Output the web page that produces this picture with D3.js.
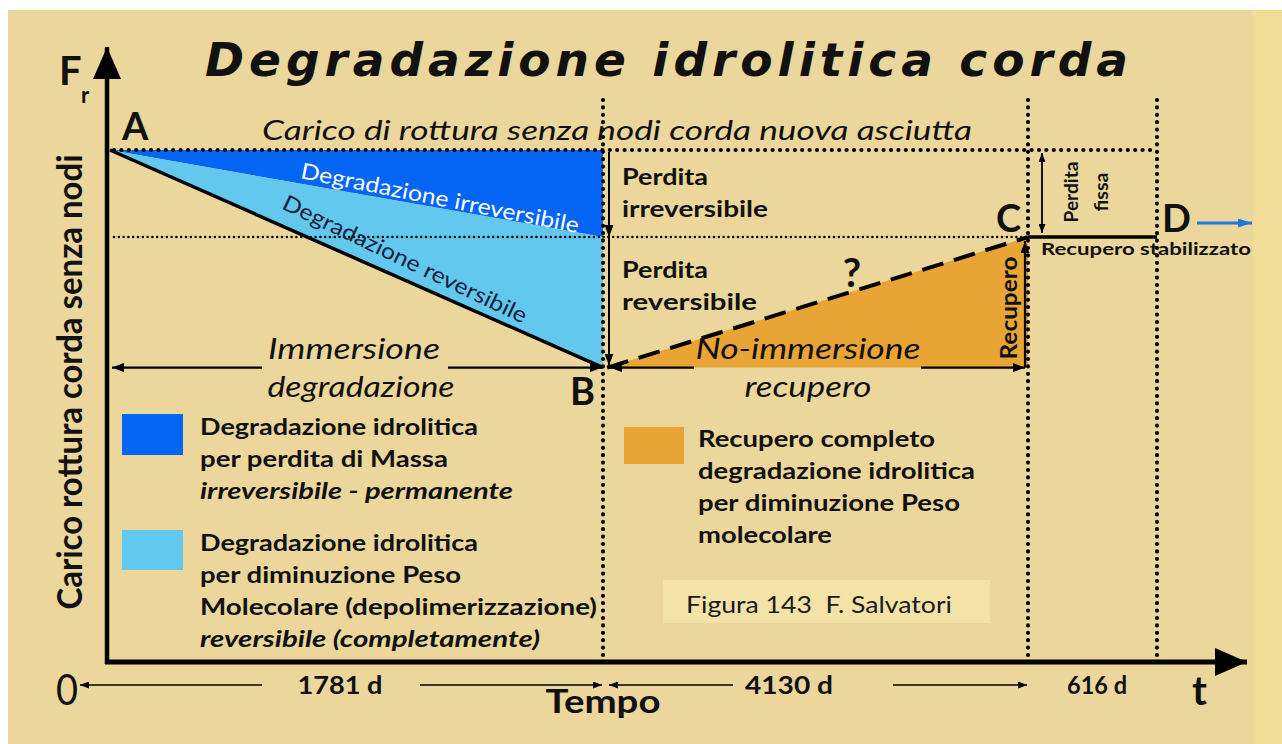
<!DOCTYPE html>
<html>
<head>
<meta charset="utf-8">
<script src="https://cdn.jsdelivr.net/npm/d3@7"></script>
<style>
  html, body { margin: 0; padding: 0; background: #fff; }
  svg { display: block; }
</style>
</head>
<body>
<div id="chart"></div>
<script>
// phases of the rope life: A (new), B (end of immersion), C (recovered), D (stable)
const phaseNames = ['A', 'B', 'C', 'D'];
const phaseDays = [0, 1781, 5911, 6527];
const phaseStrength = [100, 57.5, 83, 83];
const periodLabels = ['1781 d', '4130 d', '616 d'];
const levelNew = 100;
const levelIrreversible = 83;

const legendColors = ['#0565f5', '#62c8ee', '#e8a434'];
const legendLines = [
  ['Degradazione idrolitica', 'per perdita di Massa', 'irreversibile - permanente'],
  ['Degradazione idrolitica', 'per diminuzione Peso', 'Molecolare (depolimerizzazione)', 'reversibile (completamente)'],
  ['Recupero completo', 'degradazione idrolitica', 'per diminuzione Peso', 'molecolare'],
];
const legendItalic = [[false, false, true], [false, false, false, true], [false, false, false, false]];
const legendWidths = [[278, 248, 313], [278, 261, 397, 340], [237, 277, 262, 134]];

const width = 1282;
const height = 744;
const font = 'Lato, "Open Sans", sans-serif';

const svg = d3
  .select('#chart')
  .append('svg')
  .attr('width', width)
  .attr('height', height);

// background
svg.append('rect').attr('width', width).attr('height', height).attr('fill', '#ffffff');
svg.append('rect').attr('x', 8).attr('y', 10).attr('width', 1245).attr('height', 734).attr('fill', '#ebd69b');
svg.append('rect').attr('x', 1253).attr('y', 10).attr('width', 29).attr('height', 734).attr('fill', '#f1dd98');

const defs = svg.append('defs');
const addMarker = (id, w, h, color) => {
  defs
    .append('marker')
    .attr('id', id)
    .attr('viewBox', `0 0 ${w} ${h}`)
    .attr('refX', w)
    .attr('refY', h / 2)
    .attr('markerWidth', w)
    .attr('markerHeight', h)
    .attr('markerUnits', 'userSpaceOnUse')
    .attr('orient', 'auto-start-reverse')
    .append('path')
    .attr('d', `M0,0L${w},${h / 2}L0,${h}Z`)
    .attr('fill', color);
};
addMarker('big', 32, 28, '#000');
addMarker('small', 9, 7, '#000');
addMarker('mid', 12, 9, '#000');
addMarker('blue', 14, 9, '#1e78e6');

// scales: time is not proportional in the drawing, so use a polylinear scale
const x = d3.scaleLinear().domain(phaseDays).range([110, 603, 1028, 1157]);
const y = d3.scaleLinear().domain([0, 100]).range([662, 150]);

const pts = phaseDays.map((d, i) => ({ name: phaseNames[i], day: d, fr: phaseStrength[i] }));
const [A, B, C, D] = pts;

const line = d3
  .line()
  .x((d) => x(d.day))
  .y((d) => y(d.fr));
const poly = d3
  .line()
  .x((d) => x(d.day))
  .y((d) => y(d.fr))
  .curve(d3.curveLinearClosed);

// areas
svg
  .append('path')
  .attr('d', poly([A, { day: B.day, fr: levelNew }, { day: B.day, fr: levelIrreversible }]))
  .attr('fill', legendColors[0]);
svg
  .append('path')
  .attr('d', poly([A, { day: B.day, fr: levelIrreversible }, B]))
  .attr('fill', legendColors[1]);
svg
  .append('path')
  .attr('d', poly([{ day: B.day + 40, fr: B.fr }, C, { day: C.day, fr: B.fr }]))
  .attr('fill', legendColors[2]);

// dotted reference lines
const dotted = (x1, y1, x2, y2, w, gap) =>
  svg
    .append('line')
    .attr('x1', x1)
    .attr('y1', y1)
    .attr('x2', x2)
    .attr('y2', y2)
    .attr('stroke', '#000')
    .attr('stroke-width', w)
    .attr('stroke-linecap', 'round')
    .attr('stroke-dasharray', `0 ${gap}`);

dotted(x(0) + 4, y(levelNew), x(D.day), y(levelNew), 4.2, 7.4);
dotted(x(0) + 4, y(levelIrreversible), x(C.day), y(levelIrreversible), 2.6, 4.8);
phaseDays.slice(1).forEach((d) => dotted(x(d), 100, x(d), 658, 4.2, 7.4));

// curves
svg.append('path').attr('d', line([A, B])).attr('fill', 'none').attr('stroke', '#000').attr('stroke-width', 3.5);
svg
  .append('path')
  .attr('d', line([{ day: B.day + 40, fr: B.fr }, C]))
  .attr('fill', 'none')
  .attr('stroke', '#000')
  .attr('stroke-width', 4)
  .attr('stroke-dasharray', '22 11');
svg.append('path').attr('d', line([C, D])).attr('fill', 'none').attr('stroke', '#000').attr('stroke-width', 3.5);

// arrows helper
const arrow = (x1, y1, x2, y2, w, marker, color = '#000', both = false) => {
  const l = svg
    .append('line')
    .attr('x1', x1)
    .attr('y1', y1)
    .attr('x2', x2)
    .attr('y2', y2)
    .attr('stroke', color)
    .attr('stroke-width', w)
    .attr('marker-end', `url(#${marker})`);
  if (both) l.attr('marker-start', `url(#${marker})`);
  return l;
};

// axes
arrow(x(0) - 3, 664, x(0) - 3, 47, 4.5, 'big');
arrow(x(0) - 5, 662, 1247, 662, 5, 'big');

// loss arrows
arrow(609, y(levelNew) + 2, 609, y(levelIrreversible), 2, 'mid');
arrow(609, y(levelIrreversible), 609, y(B.fr) - 2, 2, 'mid');
arrow(x(C.day) + 14, y(levelNew) + 3, x(C.day) + 14, y(levelIrreversible) - 4, 1.8, 'small', '#000', true);
arrow(x(C.day) - 3, y(B.fr), x(C.day) - 3, y(levelIrreversible) + 4, 2.2, 'mid');

// phase span arrows at the B level
arrow(262, y(B.fr), x(0) + 2, y(B.fr), 2.2, 'mid');
arrow(448, y(B.fr), x(B.day) - 1, y(B.fr), 2.2, 'mid');
arrow(694, y(B.fr), x(B.day) + 7, y(B.fr), 2.2, 'mid');
arrow(921, y(B.fr), x(C.day) - 3, y(B.fr), 2.2, 'mid');

// blue arrow after D
arrow(1197, 223, 1252, 223, 3, 'blue', '#1e78e6');

// time period arrows under the axis
const periodGaps = [
  [262, 420],
  [733, 893],
  [null, null],
];
periodLabels.forEach((lab, i) => {
  const x0 = x(phaseDays[i]);
  const x1 = x(phaseDays[i + 1]);
  if (periodGaps[i][0] !== null) {
    arrow(periodGaps[i][0], 685, i === 0 ? 80 : x0 + 6, 685, 1.6, 'small');
    arrow(periodGaps[i][1], 685, x1 - 1, 685, 1.6, 'small');
  }
});

// text helper
const txt = (str, tx, ty, o = {}) => {
  const t = svg
    .append('text')
    .attr('transform', `translate(${tx},${ty})${o.rotate ? ` rotate(${o.rotate})` : ''}`)
    .attr('font-family', o.family || font)
    .attr('font-size', o.size || 22)
    .attr('font-weight', o.weight || 'normal')
    .attr('font-style', o.italic ? 'italic' : 'normal')
    .attr('text-anchor', o.anchor || 'start')
    .attr('fill', o.fill || '#111')
    .style('white-space', 'pre')
    .text(str);
  if (o.dy) t.attr('dy', o.dy);
  if (o.len) t.attr('textLength', o.len).attr('lengthAdjust', o.adjust || 'spacingAndGlyphs');
  return t;
};

// title
txt('Degradazione idrolitica corda', 205, 76, {
  family: '"DejaVu Sans", Verdana, sans-serif',
  size: 47,
  weight: 'bold',
  italic: true,
  len: 923,
  adjust: 'spacing',
});
txt('Carico di rottura senza nodi corda nuova asciutta', 262, 140, { size: 27, italic: true, len: 710 });

// axis labels
txt('F', 59, 85, { size: 40, weight: 'bold' });
txt('r', 81, 103, { size: 22, weight: 'bold' });
txt('Carico rottura corda senza nodi', 82, 382, { size: 35, weight: 'bold', rotate: -90, anchor: 'middle', len: 455 });
txt('0', 56, 705, { size: 42, len: 22 });
txt('t', 1192, 705, { size: 40, weight: 'bold' });
txt('Tempo', 603, 713, { size: 32, weight: 'bold', anchor: 'middle', len: 115 });

// point letters
const letterPos = [
  [122, 140],
  [570, 405],
  [996, 232],
  [1162, 232],
];
pts.forEach((p, i) => txt(p.name, letterPos[i][0], letterPos[i][1], { size: 38, weight: 'bold' }));

// period labels
const periodCenters = [340, 789, 1097];
const periodWidths = [85, 88, 60];
periodLabels.forEach((lab, i) =>
  txt(lab, periodCenters[i], 694, { size: 24, weight: 'bold', anchor: 'middle', len: periodWidths[i] })
);

// slope texts
const angle = (p, q) => (Math.atan2(y(q.fr) - y(p.fr), x(q.day) - x(p.day)) * 180) / Math.PI;
txt('Degradazione irreversibile', 440, 198, {
  size: 22,
  fill: '#ffffff',
  anchor: 'middle',
  rotate: angle(A, { day: B.day, fr: levelIrreversible }) + 1.2,
  dy: '0.35em',
  len: 283,
});
txt('Degradazione reversibile', 405, 259, {
  size: 22,
  fill: '#15213d',
  anchor: 'middle',
  rotate: angle(A, B) + 1.7,
  dy: '0.35em',
  len: 268,
});

// loss labels
txt('Perdita', 622, 185, { size: 22, weight: 'bold', len: 86 });
txt('irreversibile', 622, 217, { size: 22, weight: 'bold', len: 146 });
txt('Perdita', 622, 278, { size: 22, weight: 'bold', len: 86 });
txt('reversibile', 622, 310, { size: 22, weight: 'bold', len: 135 });
txt('?', 852, 287, { size: 40, weight: 'bold', anchor: 'middle' });
txt('Recupero', 1017, 308, { size: 22, weight: 'bold', rotate: -90, anchor: 'middle', len: 103 });
txt('Perdita', 1078, 192, { size: 19, weight: 'bold', rotate: -90, anchor: 'middle', len: 61 });
txt('fissa', 1108, 192, { size: 19, weight: 'bold', rotate: -90, anchor: 'middle', len: 39 });
txt('Recupero stabilizzato', 1041, 255, { size: 17, weight: 'bold', len: 210 });

// phase names
txt('Immersione', 354, 359, { size: 28, italic: true, anchor: 'middle', len: 172 });
txt('degradazione', 361, 397, { size: 28, italic: true, anchor: 'middle', len: 187 });
txt('No-immersione', 808, 359, { size: 28, italic: true, anchor: 'middle', len: 225 });
txt('recupero', 808, 397, { size: 28, italic: true, anchor: 'middle', len: 127 });

// legend
const swatches = [
  [122, 414, 61, 41],
  [122, 530, 61, 40],
  [624, 427, 60, 37],
];
const legendText = [
  [200, 435],
  [200, 551],
  [698, 447],
];
legendColors.forEach((c, i) => {
  const [sx, sy, sw, sh] = swatches[i];
  svg.append('rect').attr('x', sx).attr('y', sy).attr('width', sw).attr('height', sh).attr('fill', c);
  legendLines[i].forEach((l, j) => {
    txt(l, legendText[i][0], legendText[i][1] + j * 32, {
      size: 22,
      weight: 'bold',
      italic: legendItalic[i][j],
      len: legendWidths[i][j],
    });
  });
});

// figure caption
svg.append('rect').attr('x', 663).attr('y', 580).attr('width', 327).attr('height', 43).attr('fill', '#f3e3a6');
txt('Figura 143\u00a0\u00a0F. Salvatori', 686, 613, { size: 24, fill: '#1a1a1a', len: 266 });
</script>
</body>
</html>
